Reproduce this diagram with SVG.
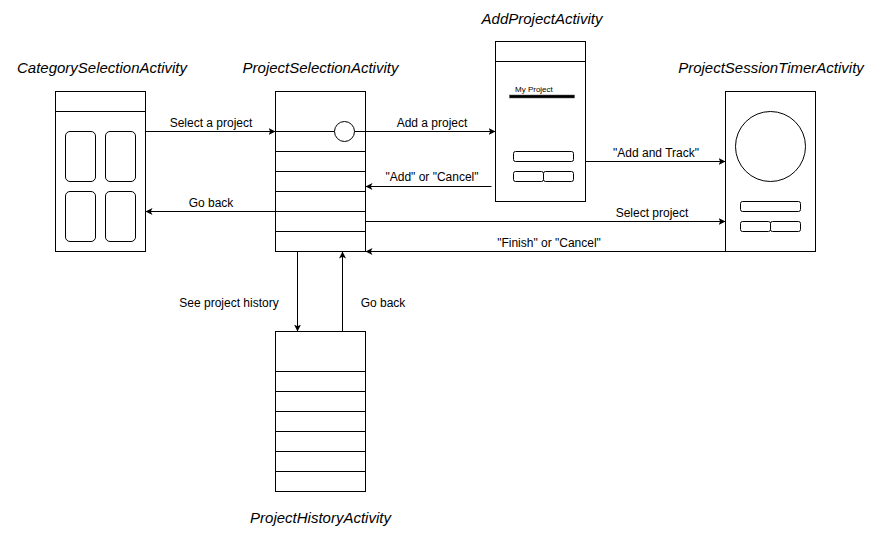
<svg xmlns="http://www.w3.org/2000/svg" width="873" height="533" viewBox="0 0 873 533">
<style>
.box{fill:#fff;stroke:#000;stroke-width:1}
.ln{fill:none;stroke:#000;stroke-width:1}
.edge{fill:none;stroke:#000;stroke-width:1}
.title{font-family:"Liberation Sans",Arial,sans-serif;font-size:15px;font-style:italic;text-anchor:middle;fill:#000}
.lbl{font-family:"Liberation Sans",Arial,sans-serif;font-size:12px;text-anchor:middle;fill:#000}
.small{font-family:"Liberation Sans",Arial,sans-serif;font-size:8px;fill:#000}
</style>
<defs>
<marker id="arr" viewBox="0 0 7 7" markerWidth="7" markerHeight="7" refX="7" refY="3.5" orient="auto" markerUnits="userSpaceOnUse">
<path d="M7,3.5 L0,7 L1.75,3.5 L0,0 Z" fill="#000"/>
</marker>
</defs>
<rect width="873" height="533" fill="#fff"/>

<g id="category-selection">
<rect class="box" x="55.5" y="91.5" width="90" height="160"/>
<line class="ln" x1="55.5" y1="111.5" x2="145.5" y2="111.5"/>
<rect class="box" x="65.5" y="131.5" width="30" height="50" rx="4.5"/>
<rect class="box" x="105.5" y="131.5" width="30" height="50" rx="4.5"/>
<rect class="box" x="65.5" y="191.5" width="30" height="50" rx="4.5"/>
<rect class="box" x="105.5" y="191.5" width="30" height="50" rx="4.5"/>
<text class="title" x="102" y="73">CategorySelectionActivity</text>
</g>

<g id="project-selection">
<rect class="box" x="275.5" y="91.5" width="90" height="160"/>
<line class="ln" x1="275.5" y1="131.5" x2="365.5" y2="131.5"/>
<line class="ln" x1="275.5" y1="151.5" x2="365.5" y2="151.5"/>
<line class="ln" x1="275.5" y1="171.5" x2="365.5" y2="171.5"/>
<line class="ln" x1="275.5" y1="191.5" x2="365.5" y2="191.5"/>
<line class="ln" x1="275.5" y1="211.5" x2="365.5" y2="211.5"/>
<line class="ln" x1="275.5" y1="231.5" x2="365.5" y2="231.5"/>
<circle class="box" cx="344.5" cy="131.5" r="10"/>
<text class="title" x="320.5" y="73">ProjectSelectionActivity</text>
</g>

<g id="add-project">
<rect class="box" x="495.5" y="41.5" width="90" height="160"/>
<line class="ln" x1="495.5" y1="61.5" x2="585.5" y2="61.5"/>
<text class="small" x="515" y="92">My Project</text>
<rect x="509.5" y="95" width="65" height="3" fill="#000" stroke="#555" stroke-width="0.5"/>
<rect class="box" x="513.5" y="151.5" width="60" height="10" rx="2"/>
<rect class="box" x="513.5" y="171.5" width="30" height="10" rx="2"/>
<rect class="box" x="543.5" y="171.5" width="30" height="10" rx="2"/>
<text class="title" x="542" y="24">AddProjectActivity</text>
</g>

<g id="project-session-timer">
<rect class="box" x="725.5" y="91.5" width="90" height="160"/>
<circle class="box" cx="770.5" cy="146.5" r="35"/>
<rect class="box" x="740.5" y="201.5" width="60" height="10" rx="2"/>
<rect class="box" x="740.5" y="221.5" width="30" height="10" rx="2"/>
<rect class="box" x="770.5" y="221.5" width="30" height="10" rx="2"/>
<text class="title" x="771" y="73">ProjectSessionTimerActivity</text>
</g>

<g id="project-history">
<rect class="box" x="275.5" y="331.5" width="90" height="160"/>
<line class="ln" x1="275.5" y1="371.5" x2="365.5" y2="371.5"/>
<line class="ln" x1="275.5" y1="391.5" x2="365.5" y2="391.5"/>
<line class="ln" x1="275.5" y1="411.5" x2="365.5" y2="411.5"/>
<line class="ln" x1="275.5" y1="431.5" x2="365.5" y2="431.5"/>
<line class="ln" x1="275.5" y1="451.5" x2="365.5" y2="451.5"/>
<line class="ln" x1="275.5" y1="471.5" x2="365.5" y2="471.5"/>
<text class="title" x="320.5" y="523">ProjectHistoryActivity</text>
</g>

<g id="connectors">
<path class="edge" d="M145.5,131.5 L275.5,131.5" marker-end="url(#arr)"/>
<text class="lbl" x="211" y="127">Select a project</text>
<path class="edge" d="M365.5,131.5 L495.5,131.5" marker-end="url(#arr)"/>
<text class="lbl" x="432" y="127">Add a project</text>
<path class="edge" d="M491.5,186.5 L365.5,186.5" marker-end="url(#arr)"/>
<text class="lbl" x="432" y="181">"Add" or "Cancel"</text>
<path class="edge" d="M585.5,161.5 L725.5,161.5" marker-end="url(#arr)"/>
<text class="lbl" x="656" y="157">"Add and Track"</text>
<path class="edge" d="M275.5,211.5 L145.5,211.5" marker-end="url(#arr)"/>
<text class="lbl" x="211" y="207">Go back</text>
<path class="edge" d="M365.5,221.5 L725.5,221.5" marker-end="url(#arr)"/>
<text class="lbl" x="652" y="217">Select project</text>
<path class="edge" d="M725.5,251.5 L365.5,251.5" marker-end="url(#arr)"/>
<text class="lbl" x="549" y="247">"Finish" or "Cancel"</text>
<path class="edge" d="M297.5,251.5 L297.5,331.5" marker-end="url(#arr)"/>
<text class="lbl" x="229" y="307">See project history</text>
<path class="edge" d="M342.5,331.5 L342.5,251.5" marker-end="url(#arr)"/>
<text class="lbl" x="383" y="307">Go back</text>
</g>
</svg>
